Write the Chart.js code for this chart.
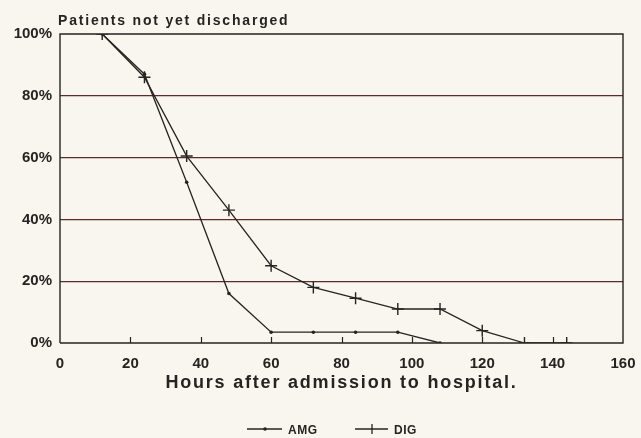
<!DOCTYPE html>
<html>
<head>
<meta charset="utf-8">
<script src="https://cdn.jsdelivr.net/npm/chart.js@4/dist/chart.umd.min.js"></script>
<style>
  html, body { margin: 0; padding: 0; background: #f8f6ee; }
  #wrap { width: 641px; height: 438px; }
</style>
</head>
<body>
<div id="wrap"><canvas id="c" width="641" height="438"></canvas></div>
<script>
// Data
const chartTitle = "Patients not yet discharged";
const xAxisTitle = "Hours after admission to hospital.";
const amgHours = [12, 24, 36, 48, 60, 72, 84, 96, 108];
const amgValues = [100, 87, 52, 16, 3.5, 3.5, 3.5, 3.5, 0];
const digHours = [12, 24, 36, 48, 60, 72, 84, 96, 108, 120, 132, 144];
const digValues = [100, 86, 60.5, 43, 25, 18, 14.5, 11, 11, 4, 0, 0];
const xTicks = [0, 20, 40, 60, 80, 100, 120, 140, 160];
const yTicks = [0, 20, 40, 60, 80, 100];
const seriesNames = ["AMG", "DIG"];

const INK = "#262422";
const GRID = "#5a2c2a";
const BG = "#f8f6ee";

const toPts = (xs, ys) => xs.map((x, i) => ({ x: x, y: ys[i] }));

const decor = {
  id: "decor",
  beforeDraw(chart) {
    const ctx = chart.ctx;
    ctx.save();
    ctx.fillStyle = BG;
    ctx.fillRect(0, 0, chart.width, chart.height);
    ctx.restore();
  },
  afterDatasetsDraw(chart) {
    const ctx = chart.ctx;
    const a = chart.chartArea;
    const xs = chart.scales.x;
    ctx.save();
    // frame: left, top, right, bottom
    ctx.strokeStyle = INK;
    ctx.lineWidth = 1.4;
    ctx.beginPath();
    ctx.moveTo(a.left, a.bottom);
    ctx.lineTo(a.left, a.top);
    ctx.lineTo(a.right, a.top);
    ctx.lineTo(a.right, a.bottom);
    ctx.lineTo(a.left, a.bottom);
    ctx.stroke();
    // inward x tick marks
    ctx.lineWidth = 1.2;
    xTicks.slice(1, -1).forEach(v => {
      const px = Math.round(xs.getPixelForValue(v)) + 0.5;
      ctx.beginPath();
      ctx.moveTo(px, a.bottom);
      ctx.lineTo(px, a.bottom - 6);
      ctx.stroke();
    });
    // title
    ctx.fillStyle = INK;
    ctx.font = "bold 14px 'Liberation Sans', Arial, sans-serif";
    ctx.letterSpacing = "1.8px";
    ctx.textAlign = "left";
    ctx.textBaseline = "alphabetic";
    ctx.fillText(chartTitle, a.left - 2, 25);
    // x axis title
    ctx.font = "bold 18px 'Liberation Sans', Arial, sans-serif";
    ctx.letterSpacing = "1.8px";
    const w = ctx.measureText(xAxisTitle).width;
    ctx.fillText(xAxisTitle, (a.left + a.right) / 2 - w / 2, 388);
    // legend
    ctx.letterSpacing = "0.5px";
    ctx.font = "bold 12px 'Liberation Sans', Arial, sans-serif";
    const ly = 429;
    ctx.lineWidth = 1.3;
    // AMG
    ctx.beginPath(); ctx.moveTo(247, ly); ctx.lineTo(282, ly); ctx.stroke();
    ctx.beginPath(); ctx.arc(265, ly, 1.8, 0, Math.PI * 2); ctx.fill();
    ctx.fillText(seriesNames[0], 288, 434);
    // DIG
    ctx.beginPath(); ctx.moveTo(355, ly); ctx.lineTo(388, ly); ctx.stroke();
    ctx.beginPath(); ctx.moveTo(372, ly - 5); ctx.lineTo(372, ly + 5); ctx.stroke();
    ctx.fillText(seriesNames[1], 394, 434);
    ctx.restore();
  }
};

new Chart(document.getElementById("c"), {
  type: "line",
  data: {
    datasets: [
      {
        label: seriesNames[0],
        data: toPts(amgHours, amgValues),
        borderColor: INK,
        backgroundColor: INK,
        borderWidth: 1.3,
        pointStyle: "circle",
        pointRadius: 1.8,
        pointBorderWidth: 0,
        tension: 0,
        fill: false
      },
      {
        label: seriesNames[1],
        data: toPts(digHours, digValues),
        borderColor: INK,
        backgroundColor: INK,
        borderWidth: 1.3,
        pointStyle: "cross",
        pointRadius: 6,
        pointBorderWidth: 1.4,
        tension: 0,
        fill: false
      }
    ]
  },
  options: {
    responsive: false,
    animation: false,
    devicePixelRatio: 1,
    layout: { padding: { left: 0, right: 18, top: 34, bottom: 0 } },
    plugins: {
      legend: { display: false },
      title: { display: false },
      tooltip: { enabled: false }
    },
    scales: {
      x: {
        type: "linear",
        min: 0,
        max: 160,
        afterBuildTicks(s) { s.ticks = xTicks.map(v => ({ value: v })); },
        afterFit(s) { s.height = 95; s.paddingLeft = 0; s.paddingRight = 0; },
        grid: { display: false, drawTicks: false },
        border: { display: false },
        ticks: {
          color: INK,
          padding: 12,
          maxRotation: 0,
          font: { family: "'Liberation Sans', Arial, sans-serif", size: 15, weight: "bold" }
        }
      },
      y: {
        min: 0,
        max: 100,
        afterBuildTicks(s) { s.ticks = yTicks.map(v => ({ value: v })); },
        afterFit(s) { s.width = 60; s.paddingTop = 0; s.paddingBottom = 0; },
        grid: {
          drawTicks: false,
          color: ctx => (ctx.tick && (ctx.tick.value === 0 || ctx.tick.value === 100)) ? "rgba(0,0,0,0)" : GRID,
          lineWidth: 1.2
        },
        border: { display: false },
        ticks: {
          color: INK,
          padding: 8,
          font: { family: "'Liberation Sans', Arial, sans-serif", size: 15, weight: "bold" },
          callback: v => v + "%"
        }
      }
    }
  },
  plugins: [decor]
});
</script>
</body>
</html>
